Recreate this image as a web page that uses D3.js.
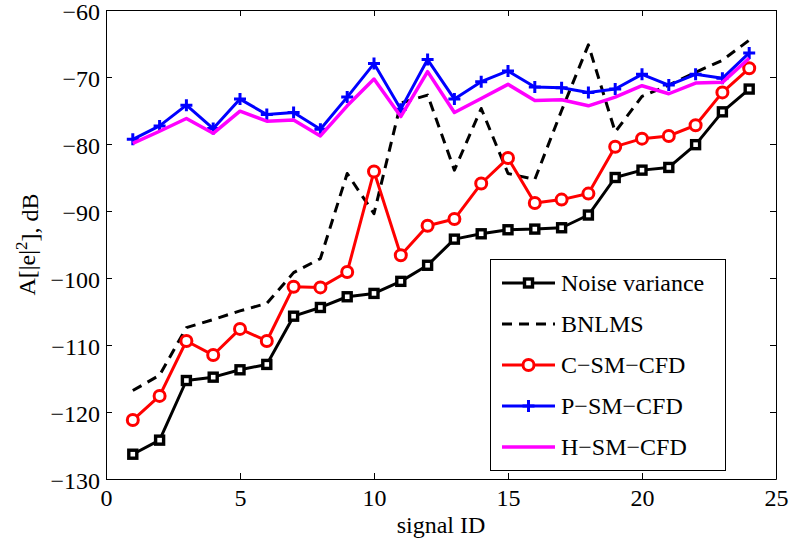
<!DOCTYPE html>
<html lang="en">
<head>
    <meta charset="UTF-8">
    <title>Error power per signal</title>
    <script src="https://d3js.org/d3.v7.min.js"></script>
    <style>
        body { margin: 0; background: #fff; }
        svg { display: block; }
        text { font-family: "Liberation Serif", "Times New Roman", serif; fill: #000; }
        .axis path, .axis line { stroke: #000; stroke-width: 1px; }
        .legend-box { fill: #fff; stroke: #000; stroke-width: 1px; }
    </style>
</head>
<body>
    <svg id="chart" width="790" height="542"></svg>

    <script>
        // data
        const signalId = [1, 2, 3, 4, 5, 6, 7, 8, 9, 10, 11, 12, 13, 14, 15, 16, 17, 18, 19, 20, 21, 22, 23, 24];
        const noiseVariance = [-126.3, -124.2, -115.3, -114.8, -113.7, -112.9, -105.7, -104.4, -102.8, -102.3, -100.5, -98.1,
                               -94.2, -93.4, -92.8, -92.7, -92.5, -90.6, -85.0, -83.9, -83.5, -80.1, -75.2, -71.8];
        const bnlms = [-116.8, -114.5, -107.4, -106.2, -104.9, -103.8, -99.2, -97.1, -84.4, -90.4, -73.9, -72.7,
                       -83.9, -74.7, -84.4, -85.3, -75.0, -65.2, -78.2, -72.9, -71.2, -69.3, -67.5, -64.5];
        const cSmCfd = [-121.2, -117.6, -109.4, -111.5, -107.6, -109.4, -101.3, -101.4, -99.1, -84.1, -96.6, -92.2,
                        -91.2, -85.9, -82.1, -88.8, -88.3, -87.4, -80.4, -79.2, -78.8, -77.2, -72.3, -68.7];
        const pSmCfd = [-79.3, -77.3, -74.2, -77.7, -73.3, -75.6, -75.3, -77.8, -73.0, -68.0, -74.8, -67.4,
                        -73.3, -70.7, -69.1, -71.5, -71.6, -72.3, -71.8, -69.6, -71.2, -69.6, -70.2, -66.4];
        const hSmCfd = [-79.9, -78.1, -76.2, -78.4, -75.1, -76.6, -76.4, -78.8, -74.3, -70.3, -75.9, -69.2,
                        -75.3, -73.2, -71.1, -73.5, -73.4, -74.3, -73.0, -71.3, -72.5, -70.9, -70.8, -67.2];

        const xTicks = [0, 5, 10, 15, 20, 25];
        const yTicks = [-130, -120, -110, -100, -90, -80, -70, -60];

        const series = [
            { name: "Noise variance", values: noiseVariance, color: "#000000", marker: "square", dash: null },
            { name: "BNLMS", values: bnlms, color: "#000000", marker: null, dash: "10,7" },
            { name: "C\u2212SM\u2212CFD", values: cSmCfd, color: "#ff0000", marker: "circle", dash: null },
            { name: "P\u2212SM\u2212CFD", values: pSmCfd, color: "#0000ff", marker: "plus", dash: null },
            { name: "H\u2212SM\u2212CFD", values: hSmCfd, color: "#ff00ff", marker: null, dash: null }
        ];

        const svg = d3.select("#chart");
        const plotLeft = 106, plotRight = 776, plotTop = 10, plotBottom = 479;

        const x = d3.scaleLinear().domain([0, 25]).range([plotLeft, plotRight]);
        const y = d3.scaleLinear().domain([-130, -60]).range([plotBottom, plotTop]);

        // axes (ticks point inward, box around the plot)
        svg.append("g").attr("class", "axis")
            .attr("transform", `translate(0,${plotBottom})`)
            .call(d3.axisBottom(x).tickValues(xTicks).tickSizeInner(-6).tickSizeOuter(0).tickPadding(10));
        svg.append("g").attr("class", "axis")
            .attr("transform", `translate(0,${plotTop})`)
            .call(d3.axisTop(x).tickValues(xTicks).tickSizeInner(-6).tickSizeOuter(0).tickFormat(""));
        svg.append("g").attr("class", "axis y-left")
            .attr("transform", `translate(${plotLeft},0)`)
            .call(d3.axisLeft(y).tickValues(yTicks).tickSizeInner(-6).tickSizeOuter(0).tickPadding(6));
        svg.append("g").attr("class", "axis")
            .attr("transform", `translate(${plotRight},0)`)
            .call(d3.axisRight(y).tickValues(yTicks).tickSizeInner(-6).tickSizeOuter(0).tickFormat(""));
        svg.selectAll(".axis").attr("font-family", null).attr("font-size", null);
        svg.selectAll(".axis text").style("font-size", "24px");
        svg.selectAll(".y-left text").attr("dy", "0.4em");

        // axis titles
        svg.append("text")
            .attr("x", (plotLeft + plotRight) / 2).attr("y", 533)
            .attr("text-anchor", "middle")
            .style("font-size", "24px")
            .text("signal ID");

        const yLabel = svg.append("text")
            .attr("transform", `translate(35,${(plotTop + plotBottom) / 2}) rotate(-90)`)
            .attr("text-anchor", "middle")
            .style("font-size", "24px");
        yLabel.append("tspan").text("A[|e|");
        yLabel.append("tspan").attr("dy", "-0.45em").style("font-size", "17px").text("2");
        yLabel.append("tspan").attr("dy", "0.45em").text("], dB");

        const line = d3.line().x((d, i) => x(signalId[i])).y(d => y(d));

        function drawMarker(g, type, color, cx, cy) {
            if (type === "square") {
                g.append("rect")
                    .attr("x", cx - 4).attr("y", cy - 4).attr("width", 8).attr("height", 8)
                    .attr("fill", "#fff").attr("stroke", color).attr("stroke-width", 3.4);
            } else if (type === "circle") {
                g.append("circle")
                    .attr("cx", cx).attr("cy", cy).attr("r", 5.5)
                    .attr("fill", "#fff").attr("stroke", color).attr("stroke-width", 3);
            } else if (type === "plus") {
                g.append("path")
                    .attr("d", `M${cx - 6},${cy}H${cx + 6}M${cx},${cy - 6}V${cy + 6}`)
                    .attr("stroke", color).attr("stroke-width", 3).attr("fill", "none");
            }
        }

        // series, drawn in plotting order
        series.forEach(s => {
            const g = svg.append("g");
            g.append("path")
                .datum(s.values)
                .attr("d", line)
                .attr("fill", "none")
                .attr("stroke", s.color)
                .attr("stroke-width", s.name.startsWith("H") ? 3.5 : 3)
                .attr("stroke-dasharray", s.dash)
                .attr("stroke-linejoin", "round");
            if (s.marker) {
                s.values.forEach((v, i) => drawMarker(g, s.marker, s.color, x(signalId[i]), y(v)));
            }
        });

        // legend
        const legend = svg.append("g");
        legend.append("rect").attr("class", "legend-box")
            .attr("x", 490.5).attr("y", 259.5).attr("width", 235).attr("height", 211);
        series.forEach((s, i) => {
            const cy = 283 + i * 41;
            legend.append("line")
                .attr("x1", 502).attr("x2", 555).attr("y1", cy).attr("y2", cy)
                .attr("stroke", s.color)
                .attr("stroke-width", s.name.startsWith("H") ? 3.5 : 3)
                .attr("stroke-dasharray", s.dash);
            if (s.marker) drawMarker(legend, s.marker, s.color, 528.5, cy);
            legend.append("text")
                .attr("x", 561).attr("y", cy + 8)
                .style("font-size", "24px")
                .text(s.name);
        });
    </script>
</body>
</html>
